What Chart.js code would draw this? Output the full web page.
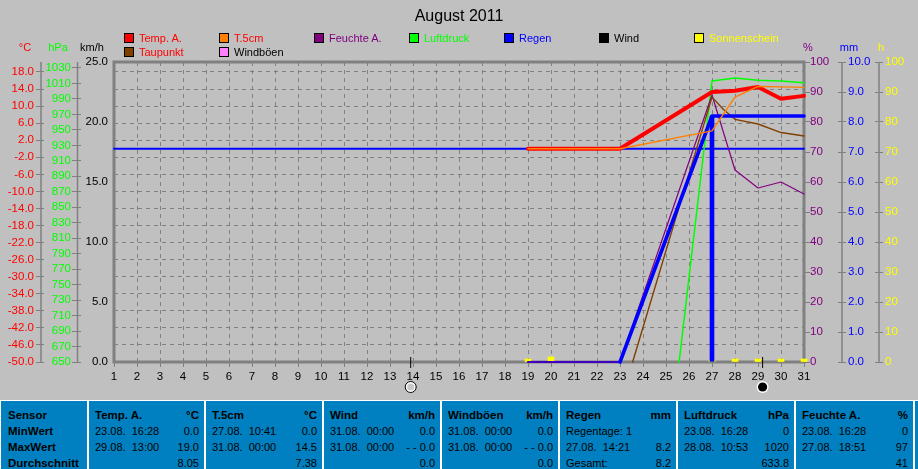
<!DOCTYPE html>
<html><head><meta charset="utf-8">
<script src="https://cdn.jsdelivr.net/npm/chart.js@4"></script>
<style>
html,body{margin:0;padding:0;background:#c0c0c0;width:918px;height:469px;overflow:hidden}
#wrap{position:relative;width:918px;height:469px;font-family:"Liberation Sans",Arial,sans-serif;font-size:11px}
#cv{position:absolute;left:0;top:0}
.t{position:absolute;white-space:nowrap;line-height:14px}
.sw{position:absolute;width:8px;height:8px;border:1px solid #000;outline:0}
#tbl{position:absolute;left:0;top:400px;width:918px;height:69px;background:#fff}
.col{position:absolute;top:1px;height:68px;background:#0080c0;color:#000;overflow:hidden}
.col .t{font-size:11px}
.col .b{font-size:11.5px;font-weight:bold}
</style></head><body>
<div id="wrap"><canvas id="cv" width="918" height="400"></canvas><div id="tbl"></div></div>
<script>
const titleText = "August 2011";
const dayTicks = [1,2,3,4,5,6,7,8,9,10,11,12,13,14,15,16,17,18,19,20,21,22,23,24,25,26,27,28,29,30,31];
const tempTicks = [-50,-46,-42,-38,-34,-30,-26,-22,-18,-14,-10,-6,-2,2,6,10,14,18];
const pressTicks = [650,670,690,710,730,750,770,790,810,830,850,870,890,910,930,950,970,990,1010,1030];
const windTicks = [0,5,10,15,20,25];
const humTicks = [0,10,20,30,40,50,60,70,80,90,100];
const rainTicks = [0,1,2,3,4,5,6,7,8,9,10];
const sunTicks = [0,10,20,30,40,50,60,70,80,90,100];

const zeroDays = [1,31];            const zeroVals = [0,0];
const tempDays = [19,23,27,28,29,30,31];  const tempVals = [0,0,13.3,13.6,14.5,11.7,12.4];
const soilDays = [19,23,27,28,29,30,31];  const soilVals = [0,0,4.2,12.1,14.6,14.5,14.4];
const dewDays  = [19,23,23.3,23.55,27,27.5,28,29,30,31]; const dewVals = [0,0,null,-50,12.1,9.2,6.9,5.8,3.8,3.0];
const humDays  = [19,23,27,28,29,30,31];  const humVals = [0,0,89,64,58,60,56];
const pressDays= [25.57,27,28,29,30,31];  const pressVals = [650,1013,1017,1014,1013,1011];
const rainDays = [23,27,31];        const rainVals = [0,8.2,8.2];
const rainBaseDays = [19,23];       const rainBaseVals = [0,0];
const rainBarDays = [27];           const rainBarVals = [8.2];
const sunDays = [19,20,27,28,29,30,31];   const sunVals = [1.0,1.7,0.5,1.0,1.0,1.0,1.0];
const moonDays = [13.9,29.2];       const moonFills = ["#c8c8c8","#000000"];

const axisTitles = [["°C",25,"#ff0000"],["hPa",58,"#00ff00"],["km/h",92,"#000000"],["%",808,"#800080"],["mm",849,"#0000ff"],["h",881,"#ffff00"]];
const legendNames = ["Temp. A.","T.5cm","Feuchte A.","Luftdruck","Regen","Wind","Sonnenschein","Taupunkt","Windböen"];
const legendSwatch = ["#ff0000","#ff8000","#800080","#00ff00","#0000ff","#000000","#ffff00","#804000","#ff80ff"];
const legendText = ["#ff0000","#ff0000","#800080","#00ff00","#0000ff","#000000","#ffff00","#ff0000","#000000"];

const colEdges = [[1,87],[89,204],[206,322],[324,440],[442,558],[560,676],[678,794],[796,913],[915,918]];
const sensorRows = ["Sensor","MinWert","MaxWert","Durchschnitt"];
const stats = [
 ["Temp. A.","°C","23.08.  16:28","0.0","29.08.  13:00","19.0","","8.05"],
 ["T.5cm","°C","27.08.  10:41","0.0","31.08.  00:00","14.5","","7.38"],
 ["Wind","km/h","31.08.  00:00","0.0","31.08.  00:00","- - 0.0","","0.0"],
 ["Windböen","km/h","31.08.  00:00","0.0","31.08.  00:00","- - 0.0","","0.0"],
 ["Regen","mm","Regentage: 1","","27.08.  14:21","8.2","Gesamt:","8.2"],
 ["Luftdruck","hPa","23.08.  16:28","0","28.08.  10:53","1020","","633.8"],
 ["Feuchte A.","%","23.08.  16:28","0","27.08.  18:51","97","","41"]
];

const FONT = "Liberation Sans";
const GRAY = "#808080";
const zip = (xs,ys) => xs.map((x,i)=>({x:x,y:ys[i]}));
const wrap = document.getElementById("wrap");
function addText(parent,txt,left,top,color,cls){
  const d=document.createElement("div");d.className="t"+(cls?" "+cls:"");d.textContent=txt;
  d.style.left=left+"px";d.style.top=top+"px";d.style.color=color;
  parent.appendChild(d);return d;
}
axisTitles.forEach(a=>{const d=addText(wrap,a[0],a[1],40,a[2]);d.style.transform="translateX(-50%)";});
legendNames.forEach((n,i)=>{
  const col=i<7?i:i-7,row=i<7?0:1,x=124+95*col,y=33+14*row;
  const s=document.createElement("div");s.className="sw";s.style.left=x+"px";s.style.top=y+"px";s.style.background=legendSwatch[i];wrap.appendChild(s);
  addText(wrap,n,x+15,y-2,legendText[i]);
});
const tbl=document.getElementById("tbl");
colEdges.forEach((e,i)=>{
  const c=document.createElement("div");c.className="col";c.style.left=e[0]+"px";c.style.width=(e[1]-e[0])+"px";tbl.appendChild(c);
  const rowY=[7,23,39,55];
  if(i===0){sensorRows.forEach((r,k)=>addText(c,r,7,rowY[k],"#000","b"));return;}
  const s=stats[i-1];if(!s)return;
  const place=(txt,k,bold,right)=>{
    const d=addText(c,txt,0,rowY[k],"#000",bold?"b":"");
    d.style.whiteSpace="pre";
    if(right){d.style.left="auto";d.style.right="5px";}else d.style.left="6px";
  };
  place(s[0],0,true,false);place(s[1],0,true,true);
  place(s[2],1,false,false);place(s[3],1,false,true);
  place(s[4],2,false,false);place(s[5],2,false,true);
  place(s[6],3,false,false);place(s[7],3,false,true);
});

function boxWidth(w){return s=>{s.width=w;};}
function fixTicks(arr){return s=>{s.ticks=arr.map(v=>({value:v}));};}
function yAxis(pos,weight,w,arr,min,max,color,tick,pad,fmt,grid){
  return {type:"linear",position:pos,weight:weight,min:min,max:max,
    afterFit:boxWidth(w),afterBuildTicks:fixTicks(arr),
    border:{display:false,dash:[4,4]},
    grid:grid||{drawOnChartArea:false,drawTicks:tick>0,tickLength:tick,tickColor:GRAY,tickWidth:1,tickBorderDash:[]},
    ticks:{color:color,padding:pad,autoSkip:false,maxRotation:0,font:{family:FONT,size:11.5},callback:fmt}};
}
const f1=v=>Number(v).toFixed(1), f0=v=>String(v);

const frame={id:"frame",
  beforeDatasetsDraw(ch){
    const a=ch.chartArea,c=ch.ctx;c.save();c.strokeStyle=GRAY;c.lineWidth=3;
    c.strokeRect(a.left,a.top,a.right-a.left,a.bottom-a.top);
    c.lineWidth=1.5;
    [[ch.scales.yTemp,41],[ch.scales.yPress,77.5],[ch.scales.yRain,842],[ch.scales.ySun,879]].forEach(p=>{
      c.beginPath();c.moveTo(p[1],a.top);c.lineTo(p[1],a.bottom);c.stroke();
    });
    c.restore();
  },
  afterDatasetsDraw(ch){
    const c=ch.ctx,x=ch.scales.x,a=ch.chartArea;c.save();
    moonDays.forEach((d,i)=>{
      const px=x.getPixelForValue(d);
      c.strokeStyle="#000";c.lineWidth=1;c.beginPath();c.moveTo(px,a.bottom-5);c.lineTo(px,a.bottom+6);c.stroke();
      if(i===0){
        c.beginPath();c.arc(px,387,5.5,0,Math.PI*2);c.fillStyle="#fff";c.fill();c.strokeStyle="#000";c.lineWidth=1;c.stroke();
        c.beginPath();c.arc(px,387,3.5,0,Math.PI*2);c.fillStyle=moonFills[i];c.fill();
      }else{
        c.beginPath();c.arc(px,387,6,0,Math.PI*2);c.fillStyle="#fff";c.fill();
        c.beginPath();c.arc(px,387,4.6,0,Math.PI*2);c.fillStyle=moonFills[i];c.fill();
      }
    });
    c.restore();
  }};

function line(label,xs,ys,axis,color,width,order){
  return {type:"line",label:label,data:zip(xs,ys),yAxisID:axis,borderColor:color,backgroundColor:color,
    borderWidth:width,pointRadius:0,tension:0,fill:false,spanGaps:false,order:order,clip:false,
    borderCapStyle:"round",borderJoinStyle:"round"};
}
function bar(label,xs,ys,axis,color,th,order){
  return {type:"bar",label:label,data:zip(xs,ys),yAxisID:axis,backgroundColor:color,barThickness:th,grouped:false,order:order,clip:false};
}

new Chart(document.getElementById("cv"),{
  type:"line",
  data:{datasets:[
    bar("Sonnenschein",sunDays,sunVals,"ySun","#ffff00",6,12),
    line("0 °C",zeroDays,zeroVals,"yTemp","#0000ff",2,11),
    line("Regen (Basis)",rainBaseDays,rainBaseVals,"yRain","#0000ff",2,10),
    line("Luftdruck",pressDays,pressVals,"yPress","#00ff00",1.5,9),
    line("Feuchte A.",humDays,humVals,"yHum","#800080",1.2,8),
    line("Taupunkt",dewDays,dewVals,"yTemp","#804000",1.4,7),
    bar("Regen Tag",rainBarDays,rainBarVals,"yRain","#0000ff",4,6),
    line("Regen",rainDays,rainVals,"yRain","#0000ff",3.6,5),
    line("Temp. A.",tempDays,tempVals,"yTemp","#ff0000",4,4),
    line("T.5cm",soilDays,soilVals,"yTemp","#ff8000",1.4,3)
  ]},
  plugins:[frame],
  options:{
    responsive:false,animation:false,events:[],
    layout:{autoPadding:false,padding:0},
    plugins:{legend:{display:false},tooltip:{enabled:false},
      title:{display:true,text:titleText,color:"#000",font:{family:FONT,size:16,weight:"normal"},padding:{top:7,bottom:35.8},fullSize:true}},
    scales:{
      x:{type:"linear",position:"bottom",min:1,max:31,offset:false,
        afterFit:s=>{s.height=38;},afterBuildTicks:fixTicks(dayTicks),
        border:{display:false,dash:[4,4]},
        grid:{offset:false,color:GRAY,lineWidth:1,tickBorderDash:[],tickColor:GRAY,tickLength:5,drawTicks:true},
        ticks:{color:"#000",padding:3,autoSkip:false,maxRotation:0,font:{family:FONT,size:11.5},callback:f0}},
      yTemp:yAxis("left",3,44,tempTicks,-50,20.34,"#ff0000",8,2,f1,
        {drawOnChartArea:true,color:GRAY,lineWidth:1,tickBorderDash:[],tickColor:GRAY,tickLength:8,drawTicks:true}),
      yPress:yAxis("left",2,37,pressTicks,650,1037.7,"#00ff00",9,1,f0),
      yWind:yAxis("left",1,33,windTicks,0,25,"#000000",0,6,f1),
      yHum:yAxis("right",1,34,humTicks,0,100,"#800080",6,0,f0),
      yRain:yAxis("right",2,37,rainTicks,0,10,"#0000ff",8,2,f1),
      ySun:yAxis("right",3,43,sunTicks,0,100,"#ffff00",8,2,f0)
    }
  }
});
</script>
</body></html>
